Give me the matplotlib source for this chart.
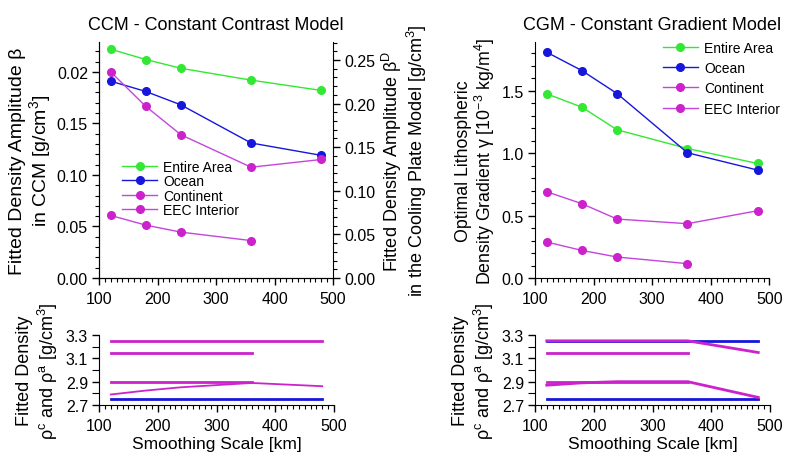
import matplotlib
matplotlib.use("Agg")
import matplotlib.pyplot as plt
from matplotlib.ticker import MultipleLocator, FixedLocator, FixedFormatter, FormatStrFormatter

plt.rcParams['font.family'] = ['Liberation Sans', 'DejaVu Sans']
plt.rcParams['mathtext.fontset'] = 'custom'
plt.rcParams['mathtext.rm'] = 'Liberation Sans'
plt.rcParams['mathtext.it'] = 'Liberation Sans:italic'
plt.rcParams['font.size'] = 11.5

# smoothing scales [km]
scales = [120, 180, 240, 360, 480]
scales_eec = [120, 180, 240, 360]

# CCM - fitted density amplitude beta
ccm_entire = [0.222, 0.212, 0.2035, 0.192, 0.182]
ccm_ocean = [0.191, 0.181, 0.168, 0.131, 0.119]
ccm_continent = [0.200, 0.1665, 0.139, 0.1075, 0.115]
ccm_eec = [0.0607, 0.0513, 0.0445, 0.0363]

# CGM - optimal lithospheric density gradient gamma
cgm_entire = [1.475, 1.368, 1.187, 1.037, 0.917]
cgm_ocean = [1.808, 1.661, 1.477, 1.003, 0.864]
cgm_continent = [0.691, 0.595, 0.472, 0.435, 0.539]
cgm_eec = [0.288, 0.221, 0.168, 0.115]

# fitted densities rho_c / rho_a
ccm_ocean_rc = [2.75, 2.75, 2.75, 2.75, 2.75]
ccm_cont_ra = [3.25, 3.25, 3.25, 3.25, 3.25]
ccm_cont_rc = [2.79, 2.824, 2.852, 2.889, 2.861]
ccm_eec_ra = [3.15, 3.15, 3.15, 3.15]
ccm_eec_rc = [2.90, 2.90, 2.90, 2.90]

cgm_ocean_ra = [3.25, 3.25, 3.25, 3.25, 3.25]
cgm_ocean_rc = [2.75, 2.75, 2.75, 2.75, 2.75]
cgm_cont_ra = [3.25, 3.25, 3.25, 3.25, 3.15]
cgm_cont_rc = [2.87, 2.89, 2.90, 2.90, 2.765]
cgm_eec_ra = [3.15, 3.15, 3.15, 3.15]
cgm_eec_rc = [2.90, 2.90, 2.90, 2.90]

labels = ['Entire Area', 'Ocean', 'Continent', 'EEC Interior']
c_green = '#33e833'
c_blue = '#1616dc'
c_cont = '#c444dc'
c_eec = '#cc22cc'

W, H = 785, 456
fig = plt.figure(figsize=(W / 100, H / 100), dpi=100)


def px_axes(x0, x1, y0, y1):
    return fig.add_axes([x0 / W, 1 - y1 / H, (x1 - x0) / W, (y1 - y0) / H])


def style(ax):
    for s in ['top', 'right']:
        ax.spines[s].set_visible(False)
    ax.tick_params(which='major', length=5, width=1, direction='out', pad=3)
    ax.tick_params(which='minor', length=3, width=0.8, direction='out')
    ax.tick_params(axis='x', which='major', pad=4.5)
    ax.set_xlim(100, 500)
    ax.xaxis.set_major_locator(MultipleLocator(100))
    ax.xaxis.set_minor_locator(MultipleLocator(10))


mk = dict(marker='o', markersize=5.5, lw=1.0)
mag = dict(markerfacecolor=c_eec, markeredgecolor=c_eec)

# ---- CCM top
ax1 = px_axes(99, 333, 43, 279)
style(ax1)
ax1.plot(scales, ccm_entire, color=c_green, **mk)
ax1.plot(scales, ccm_ocean, color=c_blue, **mk)
ax1.plot(scales, ccm_continent, color=c_cont, **mag, **mk)
ax1.plot(scales_eec, ccm_eec, color=c_cont, **mag, **mk)
ax1.set_ylim(0, 0.229)
ax1.yaxis.set_major_locator(FixedLocator([0, 0.05, 0.10, 0.15, 0.20]))
ax1.yaxis.set_major_formatter(FixedFormatter(['0.00', '0.05', '0.10', '0.15', '0.02']))
ax1.yaxis.set_minor_locator(MultipleLocator(0.01))
ax1.set_ylabel('Fitted Density Amplitude β\nin CCM [g/cm$^{3}$]', fontsize=14, labelpad=3,
               linespacing=1.05)
ax1.set_title('CCM - Constant Contrast Model', fontsize=13, pad=9)
ax1.legend(labels, loc='upper left', bbox_to_anchor=(0.10, 0.50), frameon=False,
           fontsize=10, labelspacing=0.02, handlelength=2.5, handletextpad=0.45,
           borderpad=0, borderaxespad=0)

ax1r = ax1.twinx()
ax1r.spines['top'].set_visible(False)
ax1r.set_ylim(0, 0.2706)
ax1r.yaxis.set_major_locator(MultipleLocator(0.05))
ax1r.yaxis.set_minor_locator(MultipleLocator(0.01))
ax1r.yaxis.set_major_formatter(FormatStrFormatter('%.2f'))
ax1r.tick_params(which='major', length=5, width=1, direction='out', pad=3)
ax1r.tick_params(which='minor', length=3, width=0.8, direction='out')
ax1r.set_ylabel('Fitted Density Amplitude β$^{\\mathrm{D}}$\nin the Cooling Plate Model [g/cm$^{3}$]',
                fontsize=13, labelpad=3, linespacing=1.05)

# ---- CGM top
ax2 = px_axes(535, 769.5, 43, 279)
style(ax2)
ax2.plot(scales, cgm_entire, color=c_green, **mk)
ax2.plot(scales, cgm_ocean, color=c_blue, **mk)
ax2.plot(scales, cgm_continent, color=c_cont, **mag, **mk)
ax2.plot(scales_eec, cgm_eec, color=c_cont, **mag, **mk)
ax2.set_ylim(0, 1.89)
ax2.yaxis.set_major_locator(MultipleLocator(0.5))
ax2.yaxis.set_minor_locator(MultipleLocator(0.1))
ax2.yaxis.set_major_formatter(FormatStrFormatter('%.1f'))
ax2.set_ylabel('Optimal Lithospheric\nDensity Gradient γ [10$^{-3}$ kg/m$^{4}$]', fontsize=12.8,
               labelpad=3, linespacing=1.05)
ax2.set_title('CGM - Constant Gradient Model', fontsize=13, pad=9)
ax2.legend(labels, loc='upper left', bbox_to_anchor=(0.546, 1.005), frameon=False,
           fontsize=10, labelspacing=0.45, handlelength=2.5, handletextpad=0.45,
           borderpad=0, borderaxespad=0)

# ---- bottom panels
ax3 = px_axes(99, 334, 336, 406)
style(ax3)
ax3.plot(scales, ccm_ocean_rc, color=c_blue, lw=2)
ax3.plot(scales, ccm_cont_ra, color=c_eec, lw=2)
ax3.plot(scales, ccm_cont_rc, color=c_eec, lw=1.3)
ax3.plot(scales_eec, ccm_eec_ra, color=c_eec, lw=2)
ax3.plot(scales_eec, ccm_eec_rc, color=c_eec, lw=2)

ax4 = px_axes(535, 770, 336, 406)
style(ax4)
ax4.plot(scales, cgm_ocean_ra, color=c_blue, lw=2)
ax4.plot(scales, cgm_ocean_rc, color=c_blue, lw=2)
ax4.plot(scales, cgm_cont_ra, color=c_eec, lw=2)
ax4.plot(scales, cgm_cont_rc, color=c_eec, lw=2)
ax4.plot(scales_eec, cgm_eec_ra, color=c_eec, lw=2)
ax4.plot(scales_eec, cgm_eec_rc, color=c_eec, lw=2)

for ax in (ax3, ax4):
    ax.set_ylim(2.7, 3.3)
    ax.yaxis.set_major_locator(FixedLocator([2.7, 2.9, 3.1, 3.3]))
    ax.yaxis.set_minor_locator(FixedLocator([2.8, 3.0, 3.2]))
    ax.yaxis.set_major_formatter(FormatStrFormatter('%.1f'))
    ax.tick_params(which='minor', axis='y', length=5)
    ax.set_xlabel('Smoothing Scale [km]', fontsize=12.5, labelpad=2)
    ax.set_ylabel('Fitted Density\nρ$^{\\mathrm{c}}$ and ρ$^{\\mathrm{a}}$ [g/cm$^{3}$]', fontsize=13,
                  labelpad=4, linespacing=1.15)

fig.savefig('out.png', dpi=100)
